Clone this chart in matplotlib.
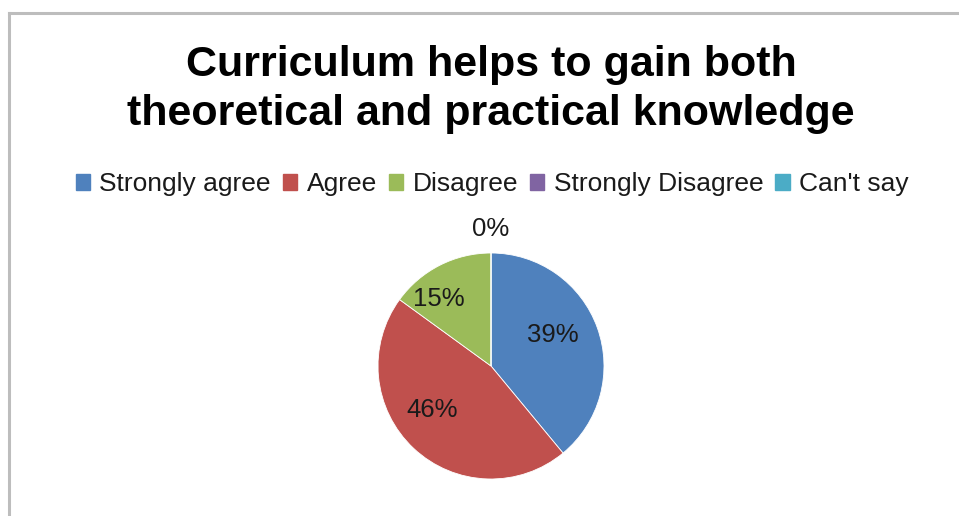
import matplotlib.pyplot as plt
from matplotlib.lines import Line2D
import numpy as np

plt.rcParams['font.family'] = ['Liberation Sans', 'DejaVu Sans']

categories = ['Strongly agree', 'Agree', 'Disagree', 'Strongly Disagree', "Can't say"]
values = [39, 46, 15, 0, 0]
colours = ['#4F81BD', '#C0504D', '#9BBB59', '#8064A2', '#4BACC6']
title = 'Curriculum helps to gain both\ntheoretical and practical knowledge'

W, H = 959, 516
fig = plt.figure(figsize=(W / 100, H / 100), dpi=100)

# grey frame, cut off at the right and bottom
fig.add_artist(Line2D([9 / W, 1.01], [1 - 13 / H, 1 - 13 / H], color='#BDBDBD', lw=2.2))
fig.add_artist(Line2D([9 / W, 9 / W], [1 - 13 / H, -0.01], color='#BDBDBD', lw=2.2))

fig.text(491 / W, 1 - 45 / H, title, ha='center', va='top', fontsize=31,
         fontweight='bold', linespacing=1.28, color='black')

cx, cy, r = 491, 366, 113
ax = fig.add_axes([(cx - r) / W, (H - cy - r) / H, 2 * r / W, 2 * r / H])
wedges, _ = ax.pie(values, colors=colours, startangle=90, counterclock=False,
                   radius=1, wedgeprops=dict(edgecolor='white', linewidth=0.6))
ax.set_xlim(-1, 1)
ax.set_ylim(-1, 1)
ax.set_aspect('equal')
ax.axis('off')

# data labels (best-fit style: distance from centre, angle nudge in degrees)
label_place = {39: (0.61, 6.5), 46: (0.65, -10), 15: (0.75, 11), 0: (1.21, 0)}
shown_zero = False
for w, v in zip(wedges, values):
    if v == 0:
        if shown_zero:
            continue
        shown_zero = True
    d, nudge = label_place[v]
    ang = np.deg2rad((w.theta1 + w.theta2) / 2 + nudge)
    ax.text(d * np.cos(ang), d * np.sin(ang), f'{v}%', ha='center', va='center',
            fontsize=18.5, color='#1a1a1a')

handles = [plt.Rectangle((0, 0), 1, 1, color=c) for c in colours]
fig.legend(handles, categories, loc='center', bbox_to_anchor=(492 / W, 1 - 184 / H),
           ncol=5, frameon=False, fontsize=19, handlelength=0.55, handleheight=0.55,
           handletextpad=0.35, columnspacing=0.45, labelcolor='#1a1a1a')

fig.savefig('out.png', dpi=100)
